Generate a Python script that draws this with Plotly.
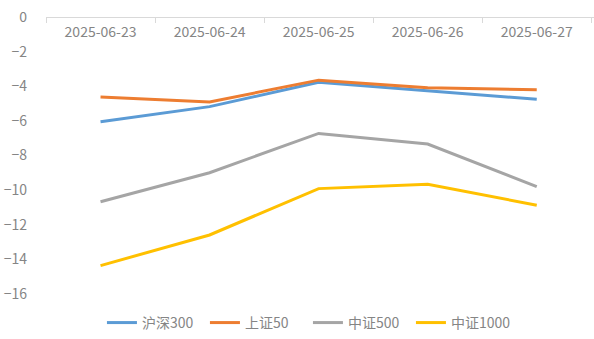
import plotly.graph_objects as go

dates = ["2025-06-23", "2025-06-24", "2025-06-25", "2025-06-26", "2025-06-27"]
hs300 = [-6.06, -5.18, -3.77, -4.28, -4.76]
sz50 = [-4.63, -4.91, -3.65, -4.09, -4.20]
zz500 = [-10.68, -9.00, -6.73, -7.34, -9.80]
zz1000 = [-14.37, -12.60, -9.92, -9.67, -10.88]
y_ticks = [0, -2, -4, -6, -8, -10, -12, -14, -16]

series = [
    ("沪深300", hs300, "#5B9BD5"),
    ("上证50", sz50, "#ED7D31"),
    ("中证500", zz500, "#A5A5A5"),
    ("中证1000", zz1000, "#FFC000"),
]

fig = go.Figure()
for name, vals, color in series:
    fig.add_trace(go.Scatter(
        x=dates, y=vals, name=name, mode="lines",
        line=dict(color=color, width=3),
    ))

font_family = "Noto Sans CJK SC, Noto Sans, sans-serif"
label_color = "#858585"
fig.update_layout(
    width=594, height=339,
    margin=dict(l=46, r=0, t=17, b=38),
    paper_bgcolor="white", plot_bgcolor="white",
    font=dict(family=font_family, size=14, color=label_color),
    showlegend=True,
    legend=dict(
        orientation="h", x=0.478, xanchor="center", y=-0.085, yanchor="middle",
        font=dict(size=14, color=label_color),
        itemwidth=30, tracegroupgap=0,
        entrywidth=58, entrywidthmode="pixels",
    ),
)
# category axis crosses at y = 0 (top of the plot), labels hang below it
fig.update_xaxes(
    type="category", side="bottom", anchor="free", position=1,
    range=[-0.5, 4.525],
    showline=True, linecolor="#D9D9D9", linewidth=1,
    ticks="outside", tickson="boundaries", ticklen=5, tickcolor="#D9D9D9",
    ticklabelstandoff=2,
    showgrid=False, zeroline=False,
    tickfont=dict(size=14, color=label_color),
)
fig.update_yaxes(
    range=[-16.3, 0], tickvals=y_ticks,
    showgrid=False, zeroline=False, showline=False,
    ticklabelstandoff=18,
    tickfont=dict(size=14, color=label_color),
)

fig.write_html("out.html")
